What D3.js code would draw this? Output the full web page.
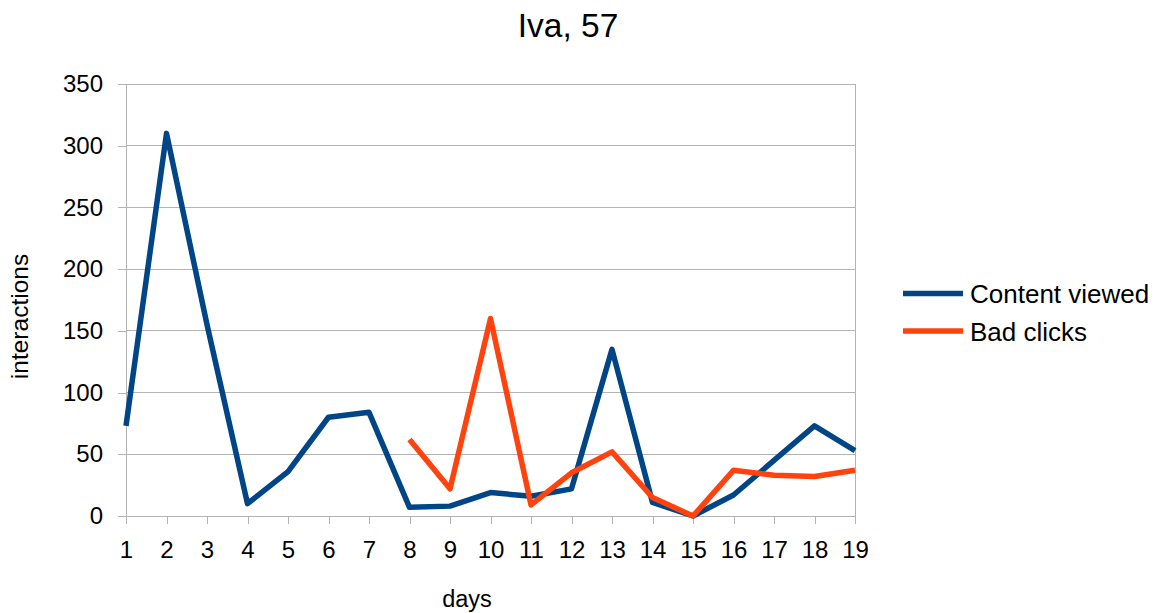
<!DOCTYPE html>
<html>
<head>
<meta charset="utf-8">
<script src="https://cdn.jsdelivr.net/npm/d3@7"></script>
<style>
  html, body { margin: 0; padding: 0; background: #ffffff; }
  svg { display: block; font-family: "Liberation Sans", Arial, sans-serif; }
</style>
</head>
<body>
<svg id="chart" width="1161" height="613"></svg>
<script>
// Daily interaction counts
const days = [1, 2, 3, 4, 5, 6, 7, 8, 9, 10, 11, 12, 13, 14, 15, 16, 17, 18, 19];
const contentViewed = [73, 310, 155, 10, 36, 80, 84, 7, 8, 19, 16, 22, 135, 11, 0, 17, 45, 73, 53];
// Bad clicks were only recorded from day 8 onward
const badClicks = [null, null, null, null, null, null, null, 62, 22, 160, 9, 35, 52, 15, 0, 37, 33, 32, 37];
const yTicks = [0, 50, 100, 150, 200, 250, 300, 350];
const seriesNames = ["Content viewed", "Bad clicks"];
const seriesColors = ["#004586", "#ff420e"];

const svg = d3.select("#chart");
const plot = { left: 126, right: 855, top: 84, bottom: 516 };

const x = d3.scaleLinear().domain([1, 19]).range([plot.left, plot.right]);
const y = d3.scaleLinear().domain([0, 350]).range([plot.bottom, plot.top]);

// Horizontal grid lines
svg.append("g")
  .selectAll("line")
  .data(yTicks)
  .join("line")
  .attr("x1", plot.left).attr("x2", plot.right)
  .attr("y1", d => y(d)).attr("y2", d => y(d))
  .attr("stroke", "#b3b3b3").attr("stroke-width", 1)
  .attr("shape-rendering", "crispEdges");

// Right side of the plot frame
svg.append("line")
  .attr("x1", plot.right).attr("x2", plot.right)
  .attr("y1", plot.top).attr("y2", plot.bottom)
  .attr("stroke", "#b3b3b3").attr("shape-rendering", "crispEdges");

// Y axis
const yAxis = svg.append("g")
  .attr("transform", `translate(${plot.left},0)`)
  .call(d3.axisLeft(y).tickValues(yTicks).tickSize(8).tickPadding(15).tickFormat(d3.format("d")));
yAxis.select(".domain").attr("stroke", "#b3b3b3");
yAxis.selectAll(".tick line").attr("stroke", "#b3b3b3");
yAxis.selectAll("text").attr("font-size", 24).attr("fill", "#000").attr("font-family", "Liberation Sans, Arial, sans-serif");

// X axis
const xAxis = svg.append("g")
  .attr("transform", `translate(0,${plot.bottom})`)
  .call(d3.axisBottom(x).tickValues(days).tickSize(8).tickPadding(17).tickFormat(d3.format("d")));
xAxis.select(".domain").attr("stroke", "#b3b3b3");
xAxis.selectAll(".tick line").attr("stroke", "#b3b3b3");
xAxis.selectAll("text").attr("font-size", 24).attr("fill", "#000").attr("font-family", "Liberation Sans, Arial, sans-serif");
svg.selectAll(".domain, .tick line").attr("shape-rendering", "crispEdges");

// Series lines
const line = d3.line()
  .defined(d => d.v !== null)
  .x(d => x(d.day))
  .y(d => y(d.v));

[contentViewed, badClicks].forEach((vals, i) => {
  const pts = days.map((day, j) => ({ day, v: vals[j] }));
  svg.append("path")
    .datum(pts)
    .attr("d", line)
    .attr("fill", "none")
    .attr("stroke", seriesColors[i])
    .attr("stroke-width", 5.5)
    .attr("stroke-linejoin", "round")
    .attr("stroke-linecap", "butt");
});

// Title
svg.append("text")
  .attr("x", 568).attr("y", 37)
  .attr("text-anchor", "middle")
  .attr("font-size", 33.5)
  .text("Iva, 57");

// Axis titles
svg.append("text")
  .attr("x", 467).attr("y", 607)
  .attr("text-anchor", "middle")
  .attr("font-size", 23.5)
  .text("days");

svg.append("text")
  .attr("transform", "translate(28,316.5) rotate(-90)")
  .attr("text-anchor", "middle")
  .attr("font-size", 24.5)
  .text("interactions");

// Legend
const legend = svg.append("g");
seriesNames.forEach((name, i) => {
  const ly = 293.5 + i * 37.5;
  legend.append("line")
    .attr("x1", 903).attr("x2", 963)
    .attr("y1", ly).attr("y2", ly)
    .attr("stroke", seriesColors[i]).attr("stroke-width", 5.5);
  legend.append("text")
    .attr("x", 970).attr("y", ly + 9.5)
    .attr("font-size", 26)
    .text(name);
});
</script>
</body>
</html>
